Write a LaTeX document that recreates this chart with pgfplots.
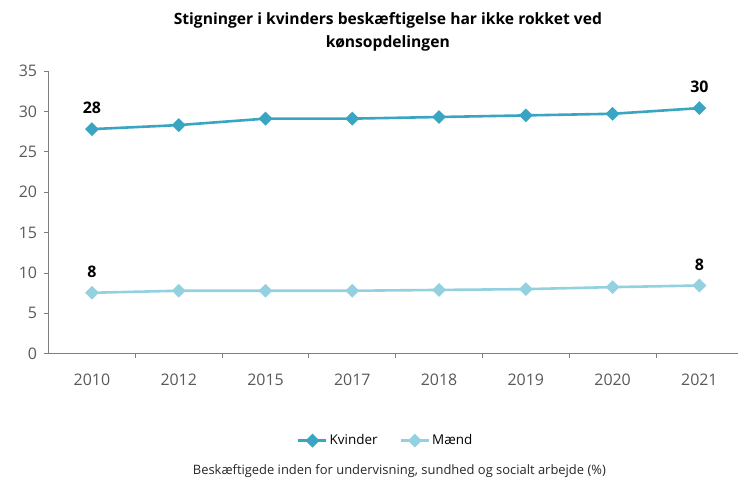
\documentclass[border=0pt]{standalone}
\usepackage{pgfplots}
\pgfplotsset{compat=1.18}
\usepackage{fontspec}
\setmainfont{Open Sans}

\definecolor{kvinder}{HTML}{3AA5C2}
\definecolor{maend}{HTML}{93D0E0}
\definecolor{axisgray}{HTML}{7F7F7F}
\definecolor{labgray}{HTML}{595959}

\begin{document}
\begin{tikzpicture}
	% fixed page size, axis box origin at (0,0)
	\path (-48.6bp,-127bp) rectangle (689.4bp,354bp);
	\begin{axis}[
		scale only axis,
		width=689.4bp,
		height=283bp,
		xmin=-0.5, xmax=7.44,
		ymin=0, ymax=35,
		axis x line=bottom,
		axis y line=left,
		axis line style={-, axisgray, line width=0.9bp},
		xtick={0,...,7},
		xticklabels={2010,2012,2015,2017,2018,2019,2020,2021},
		minor xtick={0.5,1.5,...,6.5},
		ytick={0,5,...,35},
		tick align=outside,
		major tick length=5bp,
		minor tick length=4bp,
		every major x tick/.append style={draw opacity=0},
		tick style={axisgray, line width=0.9bp},
		minor tick style={axisgray, line width=0.9bp},
		/pgf/number format/assume math mode=true,
		tick label style={font=\fontsize{16}{19}\selectfont, text=labgray},
		xticklabel style={yshift=-12bp},
		yticklabel style={xshift=-3bp},
		clip=false,
		legend style={
			at={(0.4894,-0.307)}, anchor=center,
			draw=none, fill=none,
			font=\fontsize{13.5}{16}\selectfont,
			/tikz/every even column/.append style={column sep=20bp},
		},
		legend columns=2,
		legend image code/.code={%
			\draw[#1, mark repeat=2, mark phase=2] plot coordinates {(0bp,0bp) (14bp,0bp) (28bp,0bp)};},
		nodes near coords={\pgfplotspointmeta},
		point meta=explicit symbolic,
		every node near coord/.append style={
			anchor=south, inner sep=0pt, yshift=14bp, text=black,
			font=\bfseries\fontsize{16}{19}\selectfont},
	]
		% Kvinder
		\addplot[kvinder, line width=2.6bp, mark=square*, mark size=3.6bp,
			mark options={rotate=45, solid}]
			coordinates {(0,27.8) [28] (1,28.3) [] (2,29.1) [] (3,29.1) [] (4,29.3) [] (5,29.5) [] (6,29.7) [] (7,30.4) [30]};

		% Maend
		\addplot[maend, line width=2.6bp, mark=square*, mark size=3.6bp,
			mark options={rotate=45, solid}]
			coordinates {(0,7.55) [8] (1,7.8) [] (2,7.8) [] (3,7.8) [] (4,7.9) [] (5,8.0) [] (6,8.25) [] (7,8.45) [8]};

		\legend{Kvinder, Mænd}
	\end{axis}
	\node[align=center, font=\bfseries\fontsize{15.7}{23}\selectfont] at (339.5bp,322bp)
		{Stigninger i kvinders beskæftigelse har ikke rokket ved\\kønsopdelingen};
	\node[font=\fontsize{13}{16}\selectfont, text=black!85] at (351bp,-117bp)
		{Beskæftigede inden for undervisning, sundhed og socialt arbejde (\%)};
\end{tikzpicture}
\end{document}
